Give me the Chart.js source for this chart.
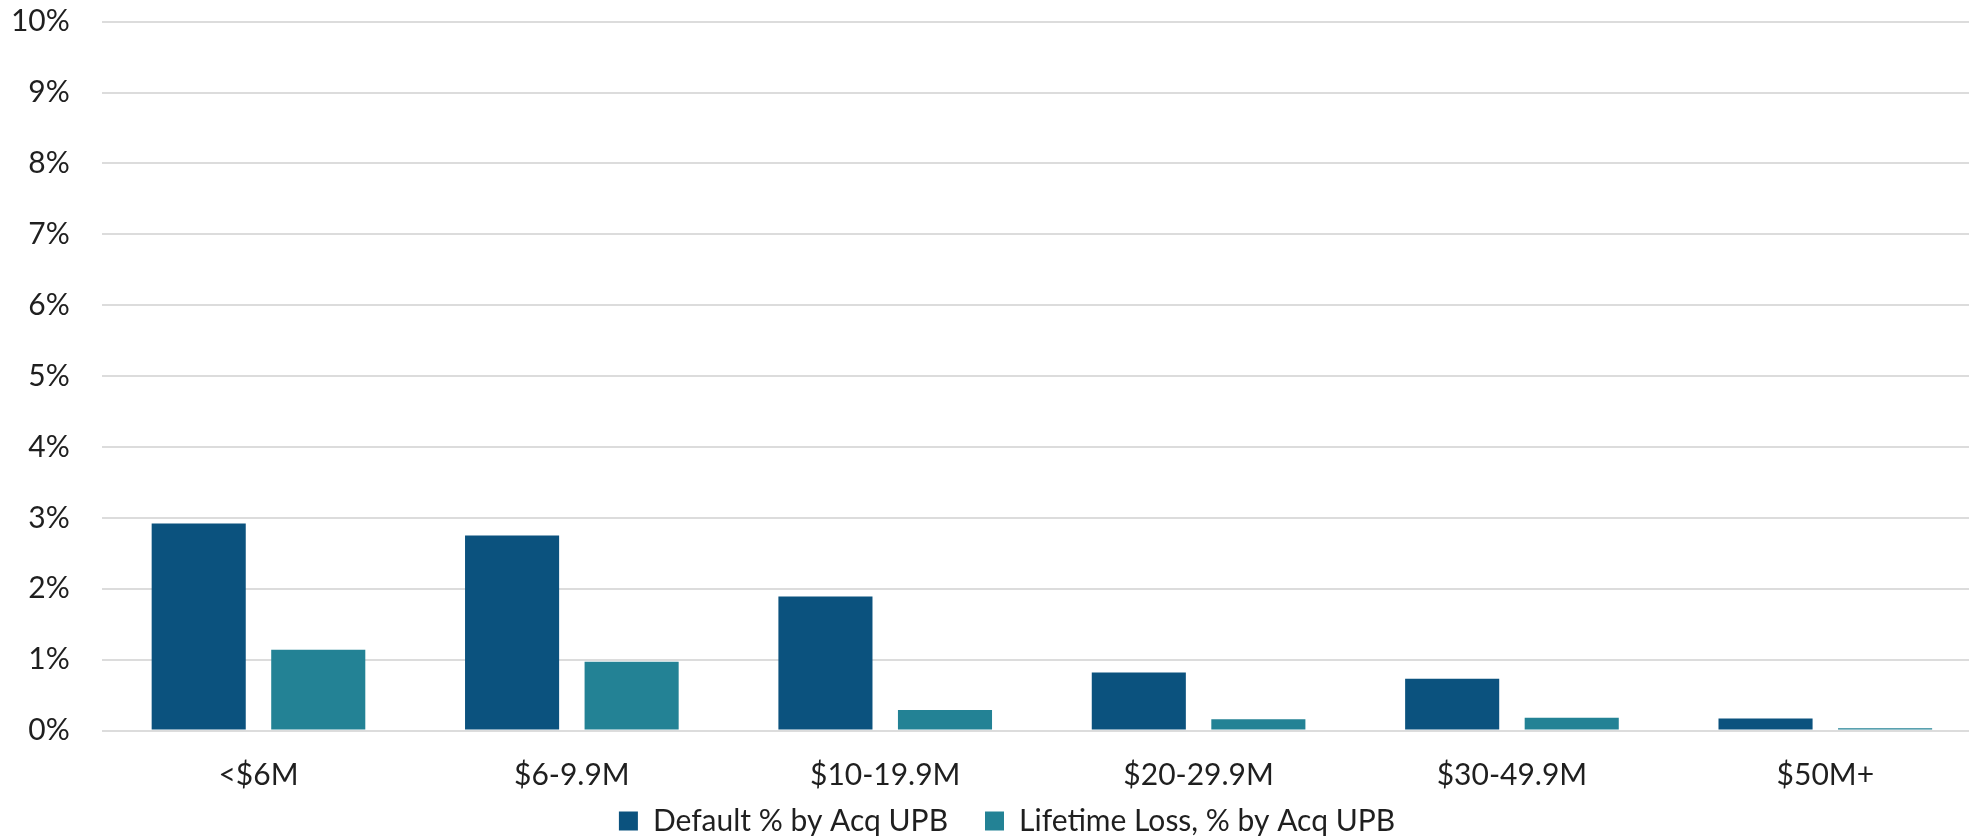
<!DOCTYPE html>
<html>
<head>
<meta charset="utf-8">
<script src="https://cdn.jsdelivr.net/npm/chart.js@4"></script>
<style>
  html, body { margin: 0; padding: 0; background: #ffffff; overflow: hidden; }
  #wrap { width: 2014px; height: 846px; }
</style>
</head>
<body>
<div id="wrap"><canvas id="chart" width="2014" height="846"></canvas></div>
<script>
// Loan size buckets (acquisition UPB)
const categories = ['<$6M', '$6-9.9M', '$10-19.9M', '$20-29.9M', '$30-49.9M', '$50M+'];

// Percent of acquisition UPB
const defaultPct = [2.92, 2.75, 1.89, 0.82, 0.73, 0.17];
const lifetimeLossPct = [1.14, 0.97, 0.29, 0.16, 0.18, 0.03];

const seriesNames = ['Default % by Acq UPB', 'Lifetime Loss, % by Acq UPB'];
const yTicks = [0, 1, 2, 3, 4, 5, 6, 7, 8, 9, 10];

const FONT = 'Lato, "Noto Sans", sans-serif';
const FONT_SIZE = 30;
const TEXT = '#1f1f1f';

new Chart(document.getElementById('chart'), {
  type: 'bar',
  data: {
    labels: categories,
    datasets: [
      {
        label: seriesNames[0],
        data: defaultPct,
        backgroundColor: '#0b527e',
        borderWidth: 0,
        categoryPercentage: 0.763,
        barPercentage: 0.787
      },
      {
        label: seriesNames[1],
        data: lifetimeLossPct,
        backgroundColor: '#238295',
        borderWidth: 0,
        categoryPercentage: 0.763,
        barPercentage: 0.787
      }
    ]
  },
  options: {
    responsive: false,
    animation: false,
    devicePixelRatio: 1,
    layout: { padding: { top: 0, left: 32, right: 32, bottom: 0 } },
    plugins: {
      tooltip: { enabled: false },
      legend: {
        position: 'bottom',
        labels: {
          font: { family: FONT, size: FONT_SIZE },
          color: TEXT,
          boxWidth: 19,
          boxHeight: 19,
          padding: 37
        }
      }
    },
    scales: {
      x: {
        grid: { display: false, drawTicks: false },
        border: { display: false },
        ticks: {
          font: { family: FONT, size: FONT_SIZE, lineHeight: 1.2 },
          color: TEXT,
          padding: 26.5,
          maxRotation: 0,
          autoSkip: false
        },
        afterFit: (scale) => {
          // thin axis box so the legend sits close; labels are allowed to spill below it
          scale.height = 38.5;
          scale._computeLabelArea = () => undefined;
        }
      },
      y: {
        min: 0,
        max: 10,
        afterBuildTicks: (scale) => { scale.ticks = yTicks.map(v => ({ value: v })); },
        grid: { color: '#dcdcdc', lineWidth: 2, drawTicks: false },
        border: { display: false },
        ticks: {
          font: { family: FONT, size: FONT_SIZE, lineHeight: 1.2 },
          color: TEXT,
          padding: 32,
          callback: (v) => v + '%'
        },
        afterFit: (scale) => {
          // narrow axis box; tick labels may extend into the left margin
          scale.width = 69.8;
          scale.paddingTop = 21.7;
          scale._computeLabelArea = () => undefined;
        }
      }
    }
  }
});
</script>
</body>
</html>
